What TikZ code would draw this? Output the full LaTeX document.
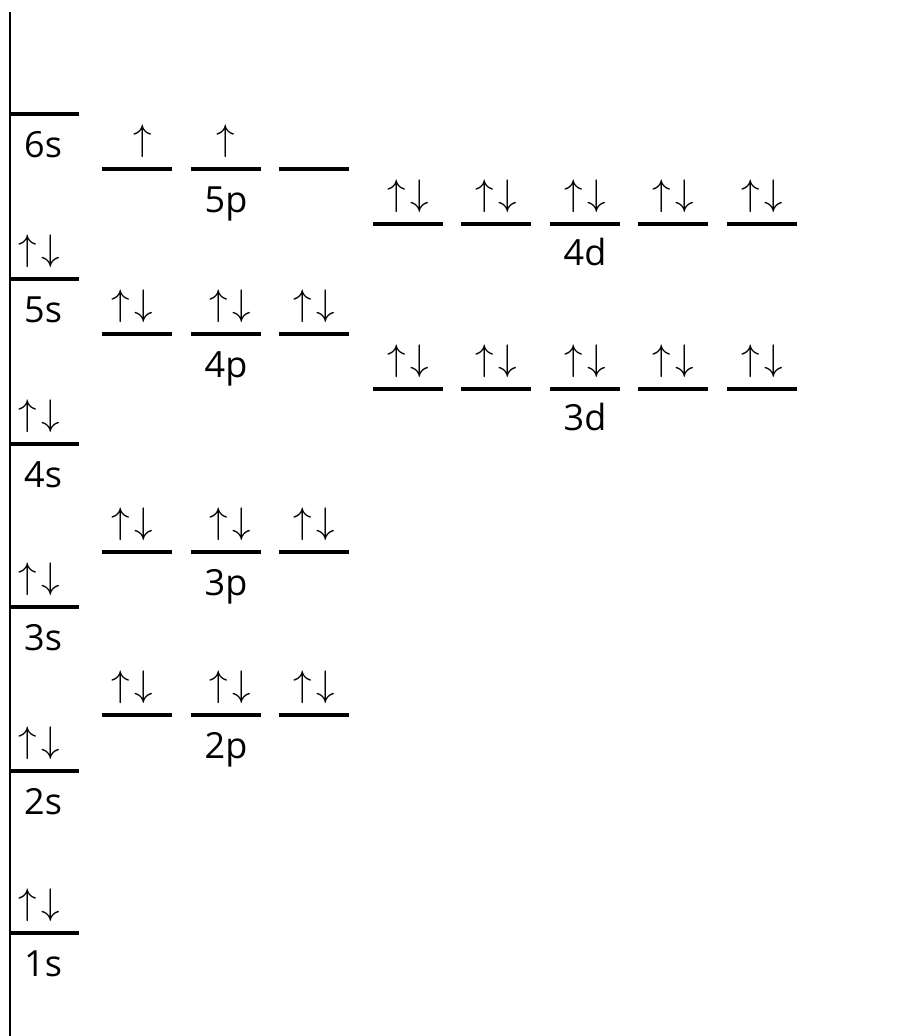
\documentclass[tikz,border=0pt]{standalone}
\usepackage{fontspec}
\usepackage{graphicx}
\setmainfont{Open Sans}
\newcommand{\spinpair}{\scalebox{3.7}{$\uparrow\mkern2mu\downarrow$}}
\newcommand{\spinup}{\scalebox{3.7}{$\uparrow$}}
\begin{document}
\begin{tikzpicture}[x=1pt,y=-1pt,
  lvl/.style={line width=3.2pt},
  axisline/.style={line width=2.6pt},
  lbl/.style={anchor=base,inner sep=0pt,font=\fontsize{36}{40}\selectfont},
  spin/.style={anchor=base,inner sep=0pt}]
\useasboundingbox (0,0) rectangle (899,1036);
\coordinate (axtop) at (10,12);
\coordinate (axbot) at (10,1036);
\draw[axisline] (axtop) -- (axbot);
% s levels
\foreach \n/\y in {6/114,5/279,4/444,3/607,2/771,1/933}{
  \coordinate (s\n L) at (10,\y);
  \coordinate (s\n R) at (79,\y);
  \draw[lvl] (s\n L) -- (s\n R);
  \node[lbl,anchor=base west] (s\n lab) at (24,\y+43) {\n s};
}
\foreach \n/\y in {5/279,4/444,3/607,2/771,1/933}{
  \node[spin] (s\n spin) at (39,\y-19) {\spinpair};
}
% p levels
\foreach \n/\y in {5/169,4/334,3/552,2/715}{
  \foreach \i/\a/\b in {1/102/172,2/191/261,3/279/349}{
    \coordinate (p\n\i L) at (\a,\y);
    \coordinate (p\n\i R) at (\b,\y);
    \draw[lvl] (p\n\i L) -- (p\n\i R);
  }
  \node[lbl] (p\n lab) at (226,\y+43) {\n p};
}
\node[spin] (p51spin) at (143,150) {\spinup};
\node[spin] (p52spin) at (226,150) {\spinup};
\foreach \n/\y in {4/334,3/552,2/715}{
  \node[spin] (p\n 1spin) at (132,\y-19) {\spinpair};
  \node[spin] (p\n 2spin) at (230,\y-19) {\spinpair};
  \node[spin] (p\n 3spin) at (314,\y-19) {\spinpair};
}
% d levels
\foreach \n/\y in {4/224,3/389}{
  \foreach \i/\a/\b in {1/373/443,2/461/531,3/550/620,4/638/708,5/727/797}{
    \coordinate (d\n\i L) at (\a,\y);
    \coordinate (d\n\i R) at (\b,\y);
    \draw[lvl] (d\n\i L) -- (d\n\i R);
    \node[spin] (d\n\i spin) at ({(\a+\b)/2},\y-19) {\spinpair};
  }
  \node[lbl] (d\n lab) at (585,\y+41) {\n d};
}
\end{tikzpicture}
\end{document}
